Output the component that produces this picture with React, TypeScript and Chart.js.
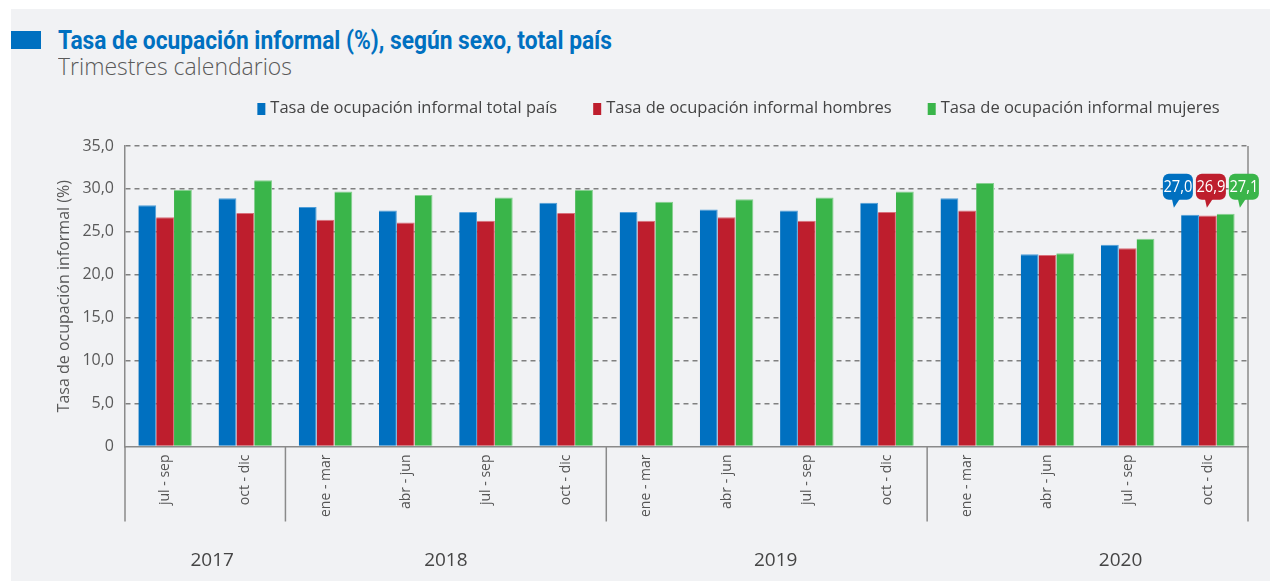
import React, { useEffect, useRef } from 'react';
import { Chart, registerables } from 'chart.js';

Chart.register(...registerables);

// ---------- data ----------
const quarters = [
  'jul - sep', 'oct - dic',
  'ene - mar', 'abr - jun', 'jul - sep', 'oct - dic',
  'ene - mar', 'abr - jun', 'jul - sep', 'oct - dic',
  'ene - mar', 'abr - jun', 'jul - sep', 'oct - dic',
];
const years = ['2017', '2018', '2019', '2020'];
const quartersPerYear = [2, 4, 4, 4];

const seriesNames = [
  'Tasa de ocupación informal total país',
  'Tasa de ocupación informal hombres',
  'Tasa de ocupación informal mujeres',
];
const totalPais = [28.1, 28.9, 27.9, 27.5, 27.3, 28.4, 27.3, 27.6, 27.5, 28.4, 28.9, 22.4, 23.5, 27.0];
const hombres = [26.7, 27.2, 26.4, 26.1, 26.3, 27.2, 26.3, 26.7, 26.3, 27.3, 27.5, 22.3, 23.1, 26.9];
const mujeres = [29.9, 31.0, 29.7, 29.3, 29.0, 29.9, 28.5, 28.8, 29.0, 29.7, 30.7, 22.5, 24.2, 27.1];

const yTickLabels = ['0', '5,0', '10,0', '15,0', '20,0', '25,0', '30,0', '35,0'];

const titleText = 'Tasa de ocupación informal (%), según sexo, total país';
const subtitleText = 'Trimestres calendarios';
const yAxisTitle = 'Tasa de ocupación informal (%)';

// ---------- styles ----------
const colors = ['#0070c0', '#be1e2d', '#3ab54a'];
const edgeColors = ['#4f9ed8', '#d9707b', '#86d08f'];
const FONT = '"Open Sans", "Noto Sans", sans-serif';
const PANEL_BG = '#f1f2f4';
const yearShift = [7, 0, 9, 33];

const fmt = (v: number) => v.toFixed(1).replace('.', ',');

const decorPlugin = {
  id: 'decor',
  afterDraw(chart: any) {
    const { ctx, chartArea: ca, scales } = chart;
    const xs = scales.x;
    const n = quarters.length;
    const boundary = (i: number) =>
      i <= 0 ? ca.left : i >= n ? ca.right : (xs.getPixelForValue(i - 1) + xs.getPixelForValue(i)) / 2;

    ctx.save();
    // group separators below the axis + right border
    ctx.strokeStyle = '#8a8a8a';
    ctx.lineWidth = 1.5;
    const bounds = [0];
    let acc = 0;
    quartersPerYear.forEach((q) => { acc += q; bounds.push(acc); });
    bounds.forEach((b) => {
      const px = boundary(b);
      ctx.beginPath();
      ctx.moveTo(px, ca.bottom);
      ctx.lineTo(px, ca.bottom + 75);
      ctx.stroke();
    });
    ctx.beginPath();
    ctx.moveTo(ca.right, ca.top);
    ctx.lineTo(ca.right, ca.bottom);
    ctx.stroke();

    // year labels
    ctx.fillStyle = '#454545';
    ctx.font = `19px ${FONT}`;
    ctx.textAlign = 'center';
    ctx.textBaseline = 'middle';
    years.forEach((y, i) => {
      const cx = (boundary(bounds[i]) + boundary(bounds[i + 1])) / 2 + yearShift[i];
      ctx.fillText(y, cx, ca.bottom + 114.5);
    });

    // legend
    ctx.font = `16.5px ${FONT}`;
    ctx.textAlign = 'left';
    const boxW = 8, boxH = 12, gapBT = 5, gapItem = 36;
    const widths = chart.data.datasets.map((d: any) => boxW + gapBT + ctx.measureText(d.label).width);
    const total = widths.reduce((a: number, b: number) => a + b, 0) + gapItem * (widths.length - 1);
    let lx = (ca.left + ca.right) / 2 + 52 - total / 2;
    const ly = ca.top - 38;
    chart.data.datasets.forEach((d: any, i: number) => {
      ctx.fillStyle = d.backgroundColor;
      ctx.fillRect(lx, ly - boxH / 2 + 1, boxW, boxH);
      ctx.fillStyle = '#444444';
      ctx.fillText(d.label, lx + boxW + gapBT, ly);
      lx += widths[i] + gapItem;
    });

    // callouts on last category
    const last = n - 1;
    const bars = [0, 1, 2].map((d) => chart.getDatasetMeta(d).data[last]);
    const topY = Math.min(...bars.map((b: any) => b.y));
    const bottom = topY - 14;
    const bw = 30, bh = 26;
    ctx.font = `16px ${FONT}`;
    ctx.textAlign = 'center';
    bars.forEach((b: any, d: number) => {
      const cx = bars[1].x + 3 + (d - 1) * 33;
      ctx.fillStyle = colors[d];
      ctx.beginPath();
      ctx.roundRect(cx - bw / 2, bottom - bh, bw, bh, 6);
      ctx.fill();
      ctx.beginPath();
      ctx.moveTo(cx - 6, bottom - 1);
      ctx.lineTo(cx + 2, bottom - 1);
      ctx.lineTo(cx - 4, bottom + 8);
      ctx.closePath();
      ctx.fill();
      ctx.fillStyle = '#ffffff';
      const v = chart.data.datasets[d].data[last];
      ctx.fillText(fmt(v), cx, bottom - bh / 2 + 1, 29);
    });
    ctx.restore();
  },
};

export default function App() {
  const canvasRef = useRef<HTMLCanvasElement>(null);
  const titleRef = useRef<HTMLSpanElement>(null);
  const subRef = useRef<HTMLSpanElement>(null);

  useEffect(() => {
    const fit = (el: HTMLElement | null, target: number) => {
      if (!el) return;
      el.style.transform = 'none';
      const w = el.getBoundingClientRect().width;
      if (w > 0) el.style.transform = `scaleX(${target / w})`;
    };
    const fitAll = () => {
      fit(titleRef.current, 554);
      fit(subRef.current, 234);
    };
    fitAll();
    if ((document as any).fonts && (document as any).fonts.ready) {
      (document as any).fonts.ready.then(fitAll);
    }

    const canvas = canvasRef.current;
    if (!canvas) return;
    const seriesData = [totalPais, hombres, mujeres];
    const chart = new Chart(canvas, {
      type: 'bar',
      data: {
        labels: quarters,
        datasets: seriesData.map((data, i) => ({
          label: seriesNames[i],
          data,
          backgroundColor: colors[i],
          borderColor: edgeColors[i],
          borderWidth: { top: 1, right: 1, left: 0, bottom: 0 },
          borderSkipped: 'bottom',
          categoryPercentage: 0.667,
          barPercentage: 1,
        })),
      },
      options: {
        responsive: false,
        animation: false,
        devicePixelRatio: 1,
        layout: { padding: { left: 44, right: 22, top: 56, bottom: 0 } },
        plugins: {
          legend: { display: false },
          tooltip: { enabled: false },
        },
        scales: {
          x: {
            grid: { display: false, drawTicks: false },
            border: { display: true, color: '#8a8a8a', width: 1.5 },
            ticks: {
              autoSkip: false,
              minRotation: 90,
              maxRotation: 90,
              padding: 8,
              color: '#555555',
              font: { family: FONT, size: 14 },
            },
            afterFit: (s: any) => { s.height = 134.5; },
          },
          y: {
            min: 0,
            max: 35,
            ticks: {
              stepSize: 5,
              padding: 11,
              color: '#595959',
              font: { family: FONT, size: 16 },
              callback: (_v: any, i: number) => yTickLabels[i],
            },
            grid: {
              drawTicks: false,
              lineWidth: 1.5,
              color: (c: any) => (c.index === 0 ? 'rgba(0,0,0,0)' : '#808080'),
            },
            border: { display: true, color: '#8a8a8a', width: 1.5, dash: [5, 4] },
            title: {
              display: true,
              text: yAxisTitle,
              color: '#595959',
              font: { family: FONT, size: 16 },
              padding: { top: 0, bottom: 0 },
            },
            afterFit: (s: any) => { s.width = 70; },
          },
        },
      },
      plugins: [decorPlugin],
    } as any);
    return () => chart.destroy();
  }, []);

  return (
    <div
      style={{
        position: 'fixed',
        left: 11,
        top: 9,
        right: 0,
        bottom: 0,
        background: PANEL_BG,
        overflow: 'hidden',
      }}
    >
      <div style={{ position: 'absolute', left: 0, top: 22, width: 30, height: 18, background: '#0070c0' }} />
      <span
        ref={titleRef}
        style={{
          position: 'absolute',
          left: 47,
          top: 19,
          display: 'inline-block',
          whiteSpace: 'nowrap',
          transformOrigin: 'left top',
          font: 'bold 25px Roboto, "Open Sans", sans-serif',
          lineHeight: 1,
          color: '#0070c0',
        }}
      >
        {titleText}
      </span>
      <span
        ref={subRef}
        style={{
          position: 'absolute',
          left: 47,
          top: 46,
          display: 'inline-block',
          whiteSpace: 'nowrap',
          transformOrigin: 'left top',
          fontFamily: '"Open Sans", sans-serif',
          fontWeight: 300,
          fontSize: 23,
          lineHeight: 1,
          color: '#5a5a5a',
        }}
      >
        {subtitleText}
      </span>
      <canvas
        ref={canvasRef}
        width={1259}
        height={491}
        style={{ position: 'absolute', left: 0, top: 81, width: 1259, height: 491 }}
      />
    </div>
  );
}
